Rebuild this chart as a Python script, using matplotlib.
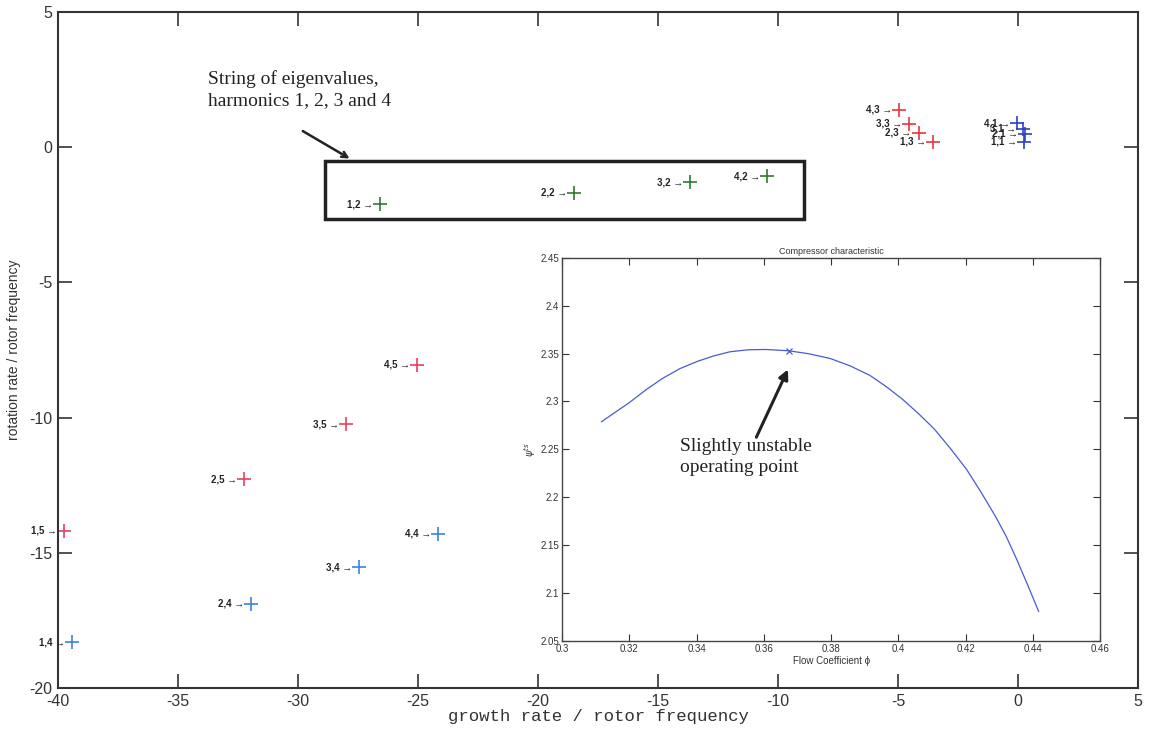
import matplotlib
matplotlib.use("Agg")
import matplotlib.pyplot as plt
from matplotlib.patches import Rectangle

plt.rcParams["axes.unicode_minus"] = False

# eigenvalues: (growth rate, rotation rate) / rotor frequency, grouped by colour
h5_x = [-39.75, -32.25, -28.0, -25.04]
h5_y = [-14.19, -12.27, -10.24, -8.05]
h5_lab = ["1,5", "2,5", "3,5", "4,5"]

h4_x = [-39.42, -31.96, -27.46, -24.17]
h4_y = [-18.3, -16.89, -15.53, -14.3]
h4_lab = ["1,4", "2,4", "3,4", "4,4"]

h2_x = [-26.6, -18.5, -13.67, -10.46]
h2_y = [-2.1, -1.69, -1.29, -1.07]
h2_lab = ["1,2", "2,2", "3,2", "4,2"]

h3_x = [-3.53, -4.15, -4.55, -4.95]
h3_y = [0.2, 0.53, 0.86, 1.38]
h3_lab = ["1,3", "2,3", "3,3", "4,3"]

h1_x = [0.25, 0.3, 0.2, -0.05]
h1_y = [0.2, 0.49, 0.68, 0.88]
h1_lab = ["1,1", "2,1", "3,1", "4,1"]

# compressor characteristic
phi = [0.3117, 0.3201, 0.3249, 0.3297, 0.335, 0.3403, 0.3451, 0.3499, 0.3553,
       0.3606, 0.3675, 0.3734, 0.3798, 0.3857, 0.3915, 0.3963, 0.4011, 0.4059,
       0.4107, 0.4155, 0.4203, 0.4246, 0.4289, 0.4321, 0.4353, 0.4385, 0.4417]
psi = [2.2788, 2.2991, 2.3121, 2.3237, 2.3342, 2.3419, 2.3475, 2.3518, 2.3539,
       2.3542, 2.3528, 2.3497, 2.3447, 2.337, 2.3272, 2.3156, 2.3026, 2.2875,
       2.2711, 2.2507, 2.2289, 2.2051, 2.1798, 2.1588, 2.1342, 2.1079, 2.0809]
op_phi, op_psi = 0.3675, 2.3528

box = (-28.87, -2.66, 19.95, 2.15)  # x0, y0, width, height

SANS = ["Liberation Sans", "DejaVu Sans"]
SERIF = ["Liberation Serif", "DejaVu Serif"]
MONO = ["Liberation Mono", "DejaVu Sans Mono"]
TXT = "#333333"

fig = plt.figure(figsize=(11.52, 7.3), dpi=100)
ax = fig.add_axes([0.0503, 0.0575, 0.9377, 0.926])

groups = [
    (h5_x, h5_y, h5_lab, "#e8415c"),
    (h4_x, h4_y, h4_lab, "#3d82dc"),
    (h2_x, h2_y, h2_lab, "#2f7a32"),
    (h3_x, h3_y, h3_lab, "#e8363f"),
    (h1_x, h1_y, h1_lab, "#2f3fc8"),
]
for xs, ys, labs, col in groups:
    ax.plot(xs, ys, "+", color=col, markersize=10, markeredgewidth=1.2, clip_on=False)
    for x, y, lab in zip(xs, ys, labs):
        ax.annotate(lab + " \u2192", (x, y), xytext=(-5, 0), textcoords="offset points",
                    ha="right", va="center", fontsize=7, fontweight="bold",
                    color="#222222", family=SANS, annotation_clip=False)

ax.add_patch(Rectangle(box[:2], box[2], box[3], fill=False, lw=2.5, ec="#222222"))
ax.annotate("", xy=(-27.75, -0.47), xytext=(-29.9, 0.65),
            arrowprops=dict(arrowstyle="->", lw=1.8, color="#222222"))
ax.text(-33.75, 2.85, "String of eigenvalues,\nharmonics 1, 2, 3 and 4",
        ha="left", va="top", fontsize=14, family=SERIF, color="#222222", linespacing=1.3)

ax.set_xlim(-40, 5)
ax.set_ylim(-20, 5)
ax.set_xticks(range(-40, 6, 5))
ax.set_yticks(range(-20, 6, 5))
ax.tick_params(direction="in", length=10, width=1.2, top=True, right=True,
               labelsize=11.5, colors=TXT, pad=4)
for lab in ax.get_xticklabels() + ax.get_yticklabels():
    lab.set_family(SANS)
for s in ax.spines.values():
    s.set_linewidth(1.5)
    s.set_color("#333333")
ax.set_xlabel("growth rate / rotor frequency", fontsize=12.5, family=MONO, color=TXT, labelpad=0)
ax.set_ylabel("rotation rate / rotor frequency", fontsize=10, family=SANS, color=TXT, labelpad=6)

# inset: compressor characteristic
ins = fig.add_axes([0.488, 0.122, 0.467, 0.525])
ins.plot(phi, psi, "-", color="#4a5ad6", lw=0.9)
ins.plot([op_phi], [op_psi], "x", color="#4a5ad6", markersize=4, markeredgewidth=0.9)
ins.set_xlim(0.3, 0.46)
ins.set_ylim(2.05, 2.45)
ins.set_xticks([0.3, 0.32, 0.34, 0.36, 0.38, 0.4, 0.42, 0.44, 0.46])
ins.set_xticklabels(["0.3", "0.32", "0.34", "0.36", "0.38", "0.4", "0.42", "0.44", "0.46"])
ins.set_yticks([2.05, 2.1, 2.15, 2.2, 2.25, 2.3, 2.35, 2.4, 2.45])
ins.set_yticklabels(["2.05", "2.1", "2.15", "2.2", "2.25", "2.3", "2.35", "2.4", "2.45"])
ins.tick_params(direction="in", length=5, width=0.8, top=True, right=True,
                labelsize=7, colors=TXT, pad=2)
for lab in ins.get_xticklabels() + ins.get_yticklabels():
    lab.set_family(SANS)
for s in ins.spines.values():
    s.set_linewidth(1.0)
    s.set_color("#444444")
ins.set_title("Compressor characteristic", fontsize=6.5, family=SANS, color=TXT, pad=3)
ins.set_xlabel("Flow Coefficient \u03d5", fontsize=7, family=SANS, color=TXT, labelpad=2)
ins.set_ylabel("$\\psi^{ts}$", fontsize=7, color=TXT, labelpad=2)
ins.annotate("", xy=(op_phi, 2.336), xytext=(0.3574, 2.26),
             arrowprops=dict(arrowstyle="-|>", lw=2.2, color="#222222", mutation_scale=14))
ins.text(0.3351, 2.262, "Slightly unstable\noperating point", ha="left", va="top",
         fontsize=14, family=SERIF, color="#222222", linespacing=1.3)

fig.savefig("out.png", dpi=100)
